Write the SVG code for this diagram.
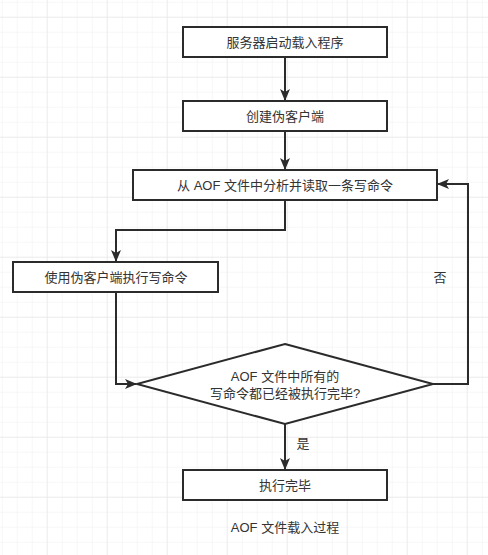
<svg xmlns="http://www.w3.org/2000/svg" width="488" height="555" viewBox="0 0 488 555">
<style>
.box{fill:#ffffff;stroke:#2b2b2b;stroke-width:2}
.edge{fill:none;stroke:#2b2b2b;stroke-width:2}
.t{font-family:"Liberation Sans","Noto Sans CJK SC",sans-serif;font-size:13px;fill:#333333;text-anchor:middle;dominant-baseline:central}
</style>
<defs>
<pattern id="minor" x="1.7" y="1.7" width="15" height="15" patternUnits="userSpaceOnUse">
<path d="M0,0 L15,0 M0,0 L0,15" fill="none" stroke="#efefef" stroke-width="1"/>
</pattern>
<pattern id="major" x="46.7" y="16.7" width="60" height="60" patternUnits="userSpaceOnUse">
<path d="M0,0 L60,0 M0,0 L0,60" fill="none" stroke="#e2e2e2" stroke-width="1"/>
</pattern>
<marker id="arr" viewBox="0 0 12 10" refX="11" refY="5" markerWidth="12" markerHeight="10" markerUnits="userSpaceOnUse" orient="auto">
<path d="M0,0 L12,5 L0,10 L3,5 z" fill="#2b2b2b"/>
</marker>
</defs>
<rect width="488" height="555" fill="#ffffff"/>
<rect width="488" height="555" fill="url(#minor)"/>
<rect width="488" height="555" fill="url(#major)"/>
<g id="connectors">
<path class="edge" d="M285,57 L285,100" marker-end="url(#arr)"/>
<path class="edge" d="M285,131 L285,169" marker-end="url(#arr)"/>
<path class="edge" d="M285,200 L285,230 L116,230 L116,261" marker-end="url(#arr)"/>
<path class="edge" d="M116,292 L116,384 L136,384" marker-end="url(#arr)"/>
<path class="edge" d="M433,384 L468,384 L468,184 L438,184" marker-end="url(#arr)"/>
<path class="edge" d="M285,424 L285,469" marker-end="url(#arr)"/>
<text class="t" x="440" y="277">否</text>
<text class="t" x="303" y="443">是</text>
</g>
<g id="start">
<rect class="box" x="183" y="27" width="204" height="30"/>
<text class="t" x="285" y="42">服务器启动载入程序</text>
</g>
<g id="create">
<rect class="box" x="183" y="101" width="204" height="30"/>
<text class="t" x="285" y="116">创建伪客户端</text>
</g>
<g id="read">
<rect class="box" x="133" y="170" width="304" height="30"/>
<text class="t" x="285" y="185">从 AOF 文件中分析并读取一条写命令</text>
</g>
<g id="exec">
<rect class="box" x="13" y="262" width="205" height="30"/>
<text class="t" x="116" y="277">使用伪客户端执行写命令</text>
</g>
<g id="decision">
<path class="box" d="M285,344 L433,384 L285,424 L137,384 Z"/>
<text class="t" x="285" y="376">AOF 文件中所有的</text>
<text class="t" x="285" y="393">写命令都已经被执行完毕?</text>
</g>
<g id="done">
<rect class="box" x="183" y="470" width="204" height="30"/>
<text class="t" x="285" y="485">执行完毕</text>
</g>
<g id="caption">
<text class="t" x="285" y="527">AOF 文件载入过程</text>
</g>
</svg>
